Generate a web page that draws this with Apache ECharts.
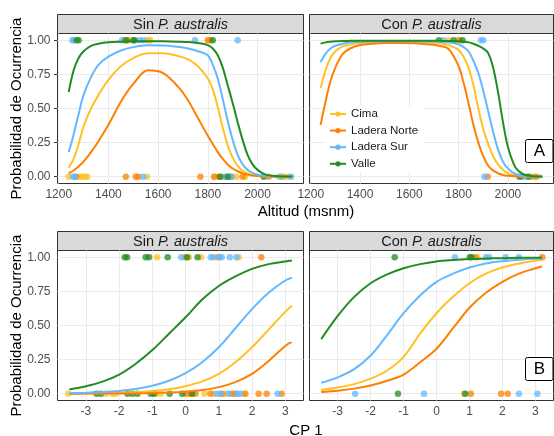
<!DOCTYPE html>
<html><head><meta charset="utf-8">
<script src="https://cdn.jsdelivr.net/npm/echarts@6/dist/echarts.min.js"></script>
<style>html,body{margin:0;padding:0;background:#fff}#c{width:554px;height:436px}</style>
</head><body><div id="c"></div>
<script>
// ---------- categories / colours ----------
const groups = ['Cima', 'Ladera Norte', 'Ladera Sur', 'Valle'];
const groupColors = ['#FFC125', '#FF8000', '#63B8FF', '#228B22'];
const stripTitles = ['Sin', 'Con', 'Sin', 'Con'];
const altTicks = [1200, 1400, 1600, 1800, 2000];
const cpTicks = [-3, -2, -1, 0, 1, 2, 3];
const probTicks = [0, 0.25, 0.5, 0.75, 1];

// ---------- fitted curves: Altitud ----------
const altX = [1240,1260,1280,1300,1330,1360,1400,1450,1500,1560,1620,1680,1720,1760,1800,1820,1840,1860,1880,1900,1920,1940,1960,1980,2000,2030,2060,2090,2120,2140];
const altSinCima  = [0.065,0.13,0.24,0.37,0.5,0.6,0.71,0.81,0.87,0.905,0.905,0.885,0.86,0.81,0.72,0.64,0.51,0.36,0.23,0.14,0.08,0.045,0.024,0.013,0.007,0.003,0.001,0,0,0];
const altSinNorte = [0.025,0.045,0.075,0.11,0.18,0.26,0.38,0.55,0.68,0.78,0.76,0.66,0.56,0.43,0.30,0.24,0.18,0.13,0.09,0.06,0.04,0.025,0.015,0.009,0.005,0.002,0.001,0,0,0];
const altSinSur   = [0.18,0.31,0.46,0.60,0.73,0.82,0.88,0.925,0.95,0.963,0.962,0.952,0.94,0.92,0.89,0.82,0.72,0.57,0.41,0.27,0.16,0.09,0.05,0.028,0.015,0.006,0.002,0.001,0.0005,0];
const altSinValle = [0.62,0.78,0.87,0.92,0.96,0.975,0.985,0.99,0.993,0.994,0.993,0.99,0.987,0.98,0.965,0.94,0.89,0.80,0.67,0.54,0.40,0.27,0.16,0.09,0.05,0.017,0.006,0.002,0.001,0.0005];
const altConCima  = [0.65,0.78,0.87,0.92,0.955,0.97,0.98,0.985,0.987,0.988,0.987,0.985,0.98,0.965,0.93,0.88,0.80,0.67,0.50,0.35,0.24,0.15,0.09,0.05,0.025,0.008,0.003,0.001,0,0];
const altConNorte = [0.38,0.55,0.70,0.80,0.90,0.94,0.965,0.975,0.98,0.98,0.978,0.97,0.96,0.935,0.81,0.69,0.54,0.38,0.25,0.15,0.08,0.046,0.025,0.013,0.007,0.003,0.001,0,0,0];
const altConSur   = [0.84,0.90,0.94,0.96,0.975,0.985,0.99,0.992,0.993,0.993,0.993,0.992,0.99,0.985,0.97,0.95,0.92,0.85,0.76,0.63,0.48,0.33,0.20,0.11,0.06,0.02,0.007,0.002,0.001,0];
const altConValle = [0.976,0.985,0.99,0.993,0.995,0.996,0.997,0.997,0.997,0.997,0.997,0.997,0.996,0.995,0.993,0.99,0.985,0.975,0.96,0.94,0.906,0.80,0.62,0.40,0.22,0.07,0.02,0.005,0.0013,0.0005];

// ---------- fitted curves: CP 1 ----------
const cpX = [-3.5,-3,-2.5,-2,-1.5,-1,-0.5,0,0.5,1,1.5,2,2.5,3,3.2];
const cpSinCima  = [0.001,0.002,0.004,0.007,0.012,0.019,0.032,0.055,0.09,0.145,0.23,0.34,0.47,0.6,0.645];
const cpSinNorte = [0,0.0005,0.001,0.0015,0.0025,0.005,0.008,0.015,0.027,0.048,0.085,0.145,0.24,0.35,0.38];
const cpSinSur   = [0.004,0.007,0.012,0.02,0.035,0.058,0.095,0.15,0.23,0.34,0.48,0.62,0.74,0.83,0.85];
const cpSinValle = [0.03,0.054,0.088,0.14,0.22,0.32,0.44,0.56,0.69,0.79,0.86,0.915,0.95,0.97,0.977];
const cpConCima  = [0.027,0.045,0.07,0.11,0.17,0.27,0.44,0.59,0.71,0.81,0.88,0.925,0.955,0.975,0.98];
const cpConNorte = [0.013,0.022,0.037,0.06,0.095,0.14,0.23,0.33,0.48,0.63,0.74,0.82,0.88,0.92,0.935];
const cpConSur   = [0.08,0.12,0.18,0.28,0.43,0.59,0.72,0.82,0.88,0.925,0.955,0.972,0.983,0.99,0.992];
const cpConValle = [0.40,0.57,0.71,0.81,0.875,0.92,0.95,0.97,0.98,0.987,0.991,0.994,0.996,0.997,0.998];

// ---------- observations (x of presences = 1, absences = 0) ----------
const altSinCima1 = [1465,1480,1555,1562,1568,1805];
const altSinCima0 = [1240,1285,1295,1305,1315,1555,1830,1860,1900,1915,1950,2085,2100,2110,2125];
const altSinNorte1 = [1475,1800,1812];
const altSinNorte0 = [1270,1470,1510,1520,1770,1825,1845,1890,1940,2045];
const altSinSur1 = [1255,1260,1455,1525,1540,1748,1920];
const altSinSur0 = [1258,1265,1540,1870,1885,1895,2095,2135];
const altSinValle1 = [1272,1280,1470,1500,1505,1820];
const altSinValle0 = [1850,1880,2025];

const altConCima1 = [1760,1798];
const altConCima0 = [2075,2095,2120];
const altConNorte1 = [1805];
const altConNorte0 = [1918,2110];
const altConSur1 = [1738,1891,1900];
const altConSur0 = [1905,2045,2065];
const altConValle1 = [1720,1780,1816];
const altConValle0 = [2050,2085];

const cpSinCima1 = [-0.86,0.1,0.47,1.6];
const cpSinCima0 = [-3.53,-2.4,-2.2,-2.1,-0.9,-0.75,0.1,0.57,0.85,1.2,1.75];
const cpSinNorte1 = [-0.01,0.96,2.28];
const cpSinNorte0 = [0.0,0.15,0.3,0.75,1.1,1.4,1.5,1.8,2.2,2.44,2.89];
const cpSinSur1 = [-0.13,0.76,0.83,1.03,1.09,1.33,1.53];
const cpSinSur0 = [0.95,1.05,1.3,1.55,1.65,2.77];
const cpSinValle1 = [-1.83,-1.76,-1.2,-1.1,-0.54,0.05,0.36];
const cpSinValle0 = [-2.68,-2.55,-1.75,-1.6,-1.45,-1.05,-0.95,-0.48,-0.1,0.2];

const cpConCima1 = [1.24];
const cpConCima0 = [0.84];
const cpConNorte1 = [1.18,3.21];
const cpConNorte0 = [1.04,1.96,2.16];
const cpConSur1 = [0.56,1.5,1.6,2.1,2.5];
const cpConSur0 = [-2.47,-0.38,2.5,3.06];
const cpConValle1 = [-1.27,1.01,1.06];
const cpConValle0 = [-1.17,0.87];

// ---------- assembly ----------
const FONT = "'Liberation Sans', Arial, sans-serif";
const panels = [
  {x: altX, curves: [altSinCima, altSinNorte, altSinSur, altSinValle],
   pres: [altSinCima1, altSinNorte1, altSinSur1, altSinValle1], abs: [altSinCima0, altSinNorte0, altSinSur0, altSinValle0]},
  {x: altX, curves: [altConCima, altConNorte, altConSur, altConValle],
   pres: [altConCima1, altConNorte1, altConSur1, altConValle1], abs: [altConCima0, altConNorte0, altConSur0, altConValle0]},
  {x: cpX, curves: [cpSinCima, cpSinNorte, cpSinSur, cpSinValle],
   pres: [cpSinCima1, cpSinNorte1, cpSinSur1, cpSinValle1], abs: [cpSinCima0, cpSinNorte0, cpSinSur0, cpSinValle0]},
  {x: cpX, curves: [cpConCima, cpConNorte, cpConSur, cpConValle],
   pres: [cpConCima1, cpConNorte1, cpConSur1, cpConValle1], abs: [cpConCima0, cpConNorte0, cpConSur0, cpConValle0]}
];
const gridBoxes = [
  {left: 57.5, top: 33.5, width: 246, height: 150},
  {left: 309.5, top: 33.5, width: 244, height: 150},
  {left: 57.5, top: 250.5, width: 246, height: 150},
  {left: 309.5, top: 250.5, width: 244, height: 150}
];
const xRanges = [[1195, 2185], [1195, 2185], [-3.856, 3.55], [-3.856, 3.55]];
const xTickSets = [altTicks, altTicks, cpTicks, cpTicks];

const grid = gridBoxes.map(b => Object.assign({show: true, backgroundColor: '#fff', borderColor: '#333', borderWidth: 1, containLabel: false}, b));

const xAxis = gridBoxes.map((b, i) => ({
  type: 'value', gridIndex: i, min: xRanges[i][0], max: xRanges[i][1],
  axisLine: {show: false}, splitLine: {show: false},
  axisTick: {show: true, customValues: xTickSets[i], length: 3.5, lineStyle: {color: '#333', width: 1}},
  axisLabel: {show: true, customValues: xTickSets[i], margin: 5, color: '#4d4d4d', fontSize: 12, fontFamily: FONT,
    formatter: v => String(v)}
}));
const yAxis = gridBoxes.map((b, i) => {
  const left = (i % 2 === 0);
  return {
    type: 'value', gridIndex: i, min: -0.05, max: 1.05,
    axisLine: {show: false}, splitLine: {show: false},
    axisTick: {show: left, customValues: probTicks, length: 3.5, lineStyle: {color: '#333', width: 1}},
    axisLabel: {show: left, customValues: probTicks, margin: 7, color: '#4d4d4d', fontSize: 12, fontFamily: FONT,
      formatter: v => v.toFixed(2)}
  };
});

const series = [];
// grid lines (through the axes) on a helper series
panels.forEach((p, i) => {
  series.push({
    type: 'line', xAxisIndex: i, yAxisIndex: i, data: [], z: 1, silent: true,
    markLine: {silent: true, z: 1, symbol: 'none', animation: false, label: {show: false},
      lineStyle: {color: '#ebebeb', width: 1, type: 'solid'},
      emphasis: {disabled: true},
      data: xTickSets[i].map(v => ({xAxis: v})).concat(probTicks.map(v => ({yAxis: v})))}
  });
});
// observations
panels.forEach((p, i) => {
  groups.forEach((g, k) => {
    const pts = p.pres[k].map(x => [x, 1]).concat(p.abs[k].map(x => [x, 0]));
    series.push({
      type: 'scatter', name: g, xAxisIndex: i, yAxisIndex: i, data: pts, z: 2,
      symbol: 'circle', symbolSize: 6.5, itemStyle: {color: groupColors[k], opacity: 0.75},
      silent: true, legendHoverLink: false
    });
  });
});
// fitted curves
const lineSeries = [];
panels.forEach((p, i) => {
  groups.forEach((g, k) => {
    lineSeries.push({
      type: 'line', name: g, xAxisIndex: i, yAxisIndex: i, z: 3,
      data: p.x.map((x, j) => [x, p.curves[k][j]]),
      smooth: 0.35, showSymbol: false, symbol: 'circle', symbolSize: 6,
      lineStyle: {color: groupColors[k], width: 2}, itemStyle: {color: groupColors[k]},
      silent: true
    });
  });
});

const graphic = [];
gridBoxes.forEach((b, i) => {
  const top = b.top - 19;
  graphic.push({type: 'rect', shape: {x: b.left, y: top, width: b.width, height: 19},
    style: {fill: '#d9d9d9', stroke: '#333', lineWidth: 1}, silent: true});
  graphic.push({type: 'text', x: b.left + b.width / 2, y: top + 10,
    style: {text: '{n|' + stripTitles[i] + ' }{it|P. australis}', align: 'center', verticalAlign: 'middle',
      rich: {n: {fontSize: 14.5, fontFamily: FONT, fill: '#1a1a1a'},
             it: {fontSize: 14.5, fontFamily: FONT, fontStyle: 'italic', fill: '#1a1a1a'}}}, silent: true});
});
[['Altitud (msnm)', 211.5], ['CP 1', 430.5]].forEach(t => {
  graphic.push({type: 'text', x: 306, y: t[1], style: {text: t[0], fontSize: 15, fontFamily: FONT, fill: '#000', align: 'center', verticalAlign: 'middle'}, silent: true});
});
[108.5, 325.5].forEach(y => {
  graphic.push({type: 'text', x: 17, y: y, rotation: Math.PI / 2,
    style: {text: 'Probabilidad de Ocurrencia', fontSize: 15, fontFamily: FONT, fill: '#000', align: 'center', verticalAlign: 'middle'}, silent: true});
});
[['A', 139.5], ['B', 357.5]].forEach(t => {
  graphic.push({type: 'rect', shape: {x: 525.5, y: t[1], width: 27.5, height: 23, r: 2},
    style: {fill: '#fff', stroke: '#000', lineWidth: 1}, z: 10, silent: true});
  graphic.push({type: 'text', x: 539.5, y: t[1] + 12, z: 11,
    style: {text: t[0], fontSize: 17, fontFamily: FONT, fill: '#000', align: 'center', verticalAlign: 'middle'}, silent: true});
});

const chart = echarts.init(document.getElementById('c'), null, {renderer: 'canvas'});
chart.setOption({
  animation: false,
  backgroundColor: '#fff',
  textStyle: {fontFamily: FONT},
  grid: grid, xAxis: xAxis, yAxis: yAxis,
  legend: {data: groups, orient: 'vertical', left: 326, top: 106, padding: [2, 6, 2, 3],
    backgroundColor: '#fff',
    itemWidth: 16, itemHeight: 6.5, itemGap: 4.6, selectedMode: false,
    textStyle: {fontSize: 11.5, color: '#1a1a1a', fontFamily: FONT}},
  series: lineSeries.concat(series),
  graphic: graphic
});
</script></body></html>
